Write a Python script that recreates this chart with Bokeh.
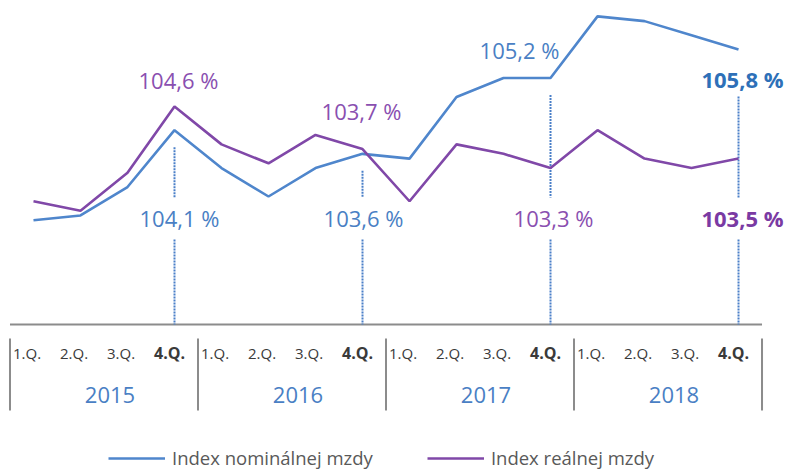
from bokeh.plotting import figure
from bokeh.models import Range1d, Legend, LegendItem
from bokeh.core.properties import value
from bokeh.embed import file_html
from bokeh.resources import INLINE

# ---- data ----
years = ["2015", "2016", "2017", "2018"]
quarters = ["1.Q.", "2.Q.", "3.Q.", "4.Q."]
nominal = [102.2, 102.3, 102.9, 104.1, 103.3, 102.7, 103.3, 103.6,
           103.5, 104.8, 105.2, 105.2, 106.5, 106.4, 106.1, 105.8]
real = [102.6, 102.4, 103.2, 104.6, 103.8, 103.4, 104.0, 103.7,
        102.6, 103.8, 103.6, 103.3, 104.1, 103.5, 103.3, 103.5]
series_names = ["Index nominálnej mzdy", "Index reálnej mzdy"]
base = 100.0

# ---- style ----
FONT = "Open Sans"
BLUE = "#4f86cc"
PURPLE = "#8048a8"
BLUE_T = "#4a7fc4"
PURPLE_T = "#8a4fb0"
GRAY = "#8c8c8c"

W, H = 790, 470
y0, y1 = 96.920, 106.835
PX = (y1 - y0) / H  # data units per pixel

n = len(nominal)
xs = list(range(n))

p = figure(width=W, height=H, output_backend="svg", toolbar_location=None,
           x_range=Range1d(-0.702, 16.106), y_range=Range1d(y0, y1),
           x_axis_type=None, y_axis_type=None, min_border=0)
p.outline_line_color = None
p.background_fill_color = "white"
p.border_fill_color = "white"

def fmt(v):
    return f"{v:.1f} %".replace(".", ",")

# category axis baseline
p.line(x=[-0.5, n - 0.5], y=[base, base], line_color=GRAY, line_width=2)

# year separators
sep_x = [4 * k - 0.5 for k in range(len(years) + 1)]
p.segment(x0=sep_x, x1=sep_x, y0=[base - 14 * PX] * len(sep_x),
          y1=[base - 86 * PX] * len(sep_x), line_color=GRAY, line_width=2)

# quarter labels
q_text = [q for _ in years for q in quarters]
q_style = ["bold" if q == quarters[-1] else "normal" for q in q_text]
q_size = ["16px" if q == quarters[-1] else "15px" for q in q_text]
p.text(x=[i - 0.5 for i in xs], y=[base] * n, text=q_text,
       x_offset=3, y_offset=29, text_align="left", text_baseline="middle",
       text_font=value(FONT), text_font_size=q_size,
       text_font_style=q_style, text_color="#3a3a3a")

# year labels
p.text(x=[4 * k + 1.5 for k in range(len(years))], y=[base] * len(years),
       text=years, x_offset=6, y_offset=71, text_align="center",
       text_baseline="middle", text_font=value(FONT), text_font_size="22px",
       text_color=BLUE_T)

# annotated 4th quarters
q4 = [4 * k + 3 for k in range(len(years))]
# upper labels: (series, color, style, dx, dy)
upper = [(real, PURPLE_T, "normal", 4, -26),
         (real, PURPLE_T, "normal", -1, -38),
         (nominal, BLUE_T, "normal", -31, -28),
         (nominal, "#2e70b8", "bold", 4, 29)]
lower = [(nominal, BLUE_T, "normal", 5),
         (nominal, BLUE_T, "normal", 1),
         (real, PURPLE_T, "normal", 3),
         (real, "#7a3aa3", "bold", 4)]
low_dy = -106

seg_x, seg_top, seg_bot = [], [], []
for i, (s, col, st, dx, dy) in zip(q4, upper):
    p.text(x=[i], y=[s[i]], text=[fmt(s[i])], x_offset=dx, y_offset=dy,
           text_align="center", text_baseline="middle", text_font=value(FONT),
           text_font_size="22px", text_font_style=st, text_color=col)
    top = nominal[i] - (dy + 18 if dy > 0 else 17) * PX
    seg_x += [i, i]
    seg_top += [top, base - (low_dy + 21) * PX]
    seg_bot += [base - (low_dy - 21) * PX, base]
for i, (s, col, st, dx) in zip(q4, lower):
    p.text(x=[i], y=[base], text=[fmt(s[i])], x_offset=dx, y_offset=low_dy,
           text_align="center", text_baseline="middle", text_font=value(FONT),
           text_font_size="22px", text_font_style=st, text_color=col)

p.segment(x0=seg_x, x1=seg_x, y0=seg_top, y1=seg_bot, line_color="#4a7fc8",
          line_width=2, line_dash="2 1")

# series lines
r_nom = p.line(xs, nominal, line_color=BLUE, line_width=2.6)
r_real = p.line(xs, real, line_color=PURPLE, line_width=2.6)

legend = Legend(items=[LegendItem(label=series_names[0], renderers=[r_nom]),
                       LegendItem(label=series_names[1], renderers=[r_real])],
                location=(108, 0), orientation="horizontal",
                glyph_width=57, glyph_height=20, label_standoff=7, spacing=54,
                padding=0, margin=0, border_line_color=None,
                background_fill_alpha=0, label_text_font=FONT,
                label_text_font_size="18.5px", label_text_color="#595959",
                label_text_baseline="middle")
p.add_layout(legend)

open("out.html", "w").write(file_html(p, INLINE))
